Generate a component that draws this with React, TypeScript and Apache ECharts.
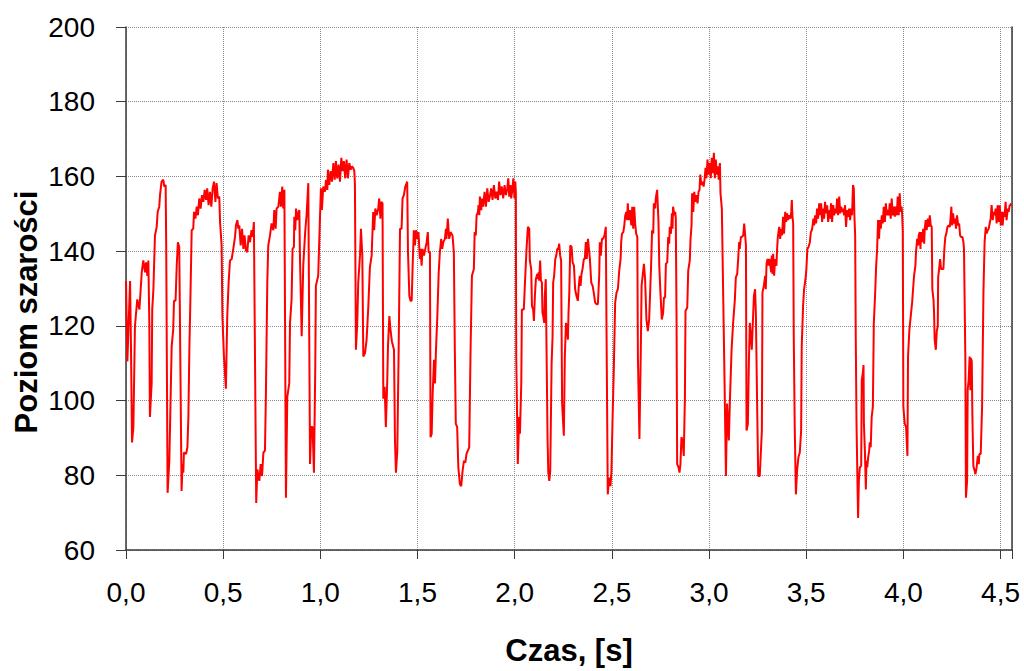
import { useEffect, useRef } from "react";
import * as echarts from "echarts";

// Grey-level trace, [time in s, grey level], split into consecutive stretches.
const stretch1: [number, number][] = [
  [0.0, 132], [0.007, 110.5], [0.021, 132], [0.026, 112.7], [0.031, 88.8], [0.038, 92.9], [0.046, 119.9],
  [0.058, 127.1], [0.069, 124.4], [0.081, 134.3], [0.089, 137.5], [0.098, 134.3], [0.103, 137], [0.11, 133.4],
  [0.115, 137.5], [0.12, 120.8], [0.123, 95.6], [0.132, 104.6], [0.135, 124.4], [0.141, 129.8], [0.149, 144.2],
  [0.158, 146.5], [0.163, 150.5], [0.171, 151.9], [0.175, 155], [0.183, 158.6], [0.192, 159.1], [0.197, 157.3],
  [0.204, 157.7], [0.207, 140.6], [0.214, 75.3], [0.223, 83.9], [0.235, 114.5], [0.243, 119], [0.247, 126.7],
  [0.255, 126.7], [0.261, 136.1], [0.267, 142.4], [0.274, 141.1], [0.286, 75.8], [0.291, 83], [0.295, 80.7],
  [0.298, 86.1], [0.309, 85.7], [0.316, 87.5], [0.321, 95.6], [0.326, 113.6], [0.331, 126.2], [0.338, 145.6],
  [0.346, 146], [0.35, 150.5], [0.357, 148.7], [0.364, 151.9], [0.37, 149.6], [0.377, 154.1], [0.384, 151.4],
  [0.391, 155], [0.398, 153.2], [0.405, 156.4], [0.412, 153.7], [0.418, 156.8], [0.425, 152.3], [0.432, 155.9],
  [0.439, 151.9], [0.446, 156.8], [0.453, 158.6], [0.46, 153.2], [0.466, 158.2], [0.473, 154.1], [0.48, 154.6],
  [0.484, 147.8], [0.492, 141.5], [0.496, 122.6], [0.504, 111.8], [0.514, 103.2], [0.521, 122.6], [0.528, 131.6],
  [0.535, 137.5], [0.544, 137.9], [0.552, 140.6], [0.561, 143.8], [0.566, 146.9], [0.573, 148.3], [0.578, 146],
  [0.583, 146.9], [0.59, 141.5], [0.597, 146], [0.604, 140.6], [0.61, 144.2], [0.617, 140.2], [0.624, 139.7],
  [0.631, 144.2],
];

const stretch2: [number, number][] = [
  [0.638, 142.4], [0.646, 145.6], [0.652, 143.8], [0.658, 147.8], [0.67, 72.6], [0.676, 81.6], [0.686, 78.5],
  [0.693, 83], [0.7, 79.8], [0.707, 86.1], [0.715, 86.6], [0.72, 101.9], [0.727, 131.6], [0.732, 141.5],
  [0.741, 144.2], [0.749, 147.4], [0.758, 145.6], [0.763, 151], [0.77, 146], [0.775, 151.4], [0.784, 151.9],
  [0.792, 155.9], [0.797, 151.9], [0.804, 157.3], [0.809, 151.4], [0.815, 156.4], [0.823, 74], [0.83, 101],
  [0.84, 104.6], [0.844, 120.8], [0.852, 127.1], [0.857, 140.6], [0.864, 141.1], [0.866, 149.2], [0.871, 145.6],
  [0.875, 151.4], [0.881, 148.3], [0.886, 150.1], [0.892, 151], [0.895, 138.8], [0.904, 117.2], [0.912, 136.1],
  [0.922, 145.1], [0.929, 149.6], [0.938, 158.2], [0.947, 83], [0.953, 92.9], [0.96, 92.9], [0.967, 80.7],
  [0.974, 109.1], [0.977, 130.7], [0.989, 133.4], [0.998, 148.7], [1.003, 156.8], [1.008, 151], [1.015, 157.3],
  [1.024, 155.9], [1.029, 159.1], [1.036, 156.4], [1.039, 161.8], [1.046, 157.7], [1.053, 161.4], [1.06, 158.6],
  [1.067, 163.6], [1.074, 159.1], [1.08, 164.1], [1.087, 159.5], [1.094, 163.2], [1.101, 158.6], [1.108, 165],
  [1.115, 161.4], [1.121, 164.1], [1.128, 159.5], [1.135, 164.5], [1.142, 159.5], [1.149, 163.6], [1.156, 161.8],
  [1.163, 162.7], [1.169, 162.3], [1.175, 161.4], [1.178, 157.7], [1.183, 113.6], [1.19, 120.8], [1.195, 131.6],
  [1.204, 138.8], [1.209, 146], [1.216, 138.8], [1.221, 111.8], [1.23, 112.7], [1.238, 116.3], [1.247, 125.3],
  [1.255, 135.7], [1.264, 138.8], [1.267, 143.3], [1.272, 150.5], [1.277, 145.6], [1.283, 151.4], [1.29, 149.6],
  [1.298, 151.4], [1.303, 154.1], [1.309, 148.7], [1.314, 153.2], [1.32, 152.8],
];

const stretch3: [number, number][] = [
  [1.324, 100.5], [1.331, 103.7], [1.337, 92.9], [1.344, 104.6], [1.348, 114.5], [1.355, 122.6], [1.361, 119],
  [1.368, 115.9], [1.379, 113.6], [1.384, 89.3], [1.389, 80.7], [1.396, 86.6], [1.403, 113.6], [1.41, 146],
  [1.418, 146], [1.423, 154.1], [1.43, 155], [1.437, 157.3], [1.444, 158.2], [1.447, 158.6], [1.451, 139.7],
  [1.458, 128], [1.464, 126.7], [1.47, 126.7], [1.475, 136.1], [1.481, 145.6], [1.487, 141.5], [1.492, 145.6],
  [1.499, 143.3], [1.505, 145.1], [1.512, 137.9], [1.516, 140.6], [1.521, 136.1], [1.526, 140.6], [1.533, 138.8],
  [1.54, 140.6], [1.547, 142.4], [1.553, 145.1], [1.557, 139.7], [1.564, 139.7], [1.567, 90.2], [1.573, 91.1],
  [1.578, 101.9], [1.585, 110.9], [1.59, 104.6], [1.595, 113.6], [1.602, 122.6], [1.609, 134.3], [1.615, 139.7],
  [1.622, 143.3], [1.627, 140.6], [1.633, 142.4], [1.641, 143.3], [1.646, 146], [1.649, 143.3], [1.656, 148.7],
  [1.663, 143.3], [1.67, 145.1], [1.68, 144.2], [1.687, 139.7], [1.692, 113.6], [1.697, 93.8], [1.704, 92.9],
  [1.71, 82.1], [1.718, 77.6], [1.725, 77.1], [1.732, 81.2], [1.739, 83.9], [1.746, 83.4], [1.752, 85.7],
  [1.759, 86.6], [1.766, 87.5], [1.773, 113.6], [1.78, 133.4], [1.79, 135.2], [1.794, 145.1], [1.8, 144.2],
  [1.804, 149.6], [1.811, 150.5], [1.814, 152.3], [1.818, 149.6], [1.821, 154.6], [1.828, 151], [1.833, 154.1],
  [1.838, 151.9], [1.845, 155.9], [1.852, 151.9], [1.859, 156.8], [1.866, 153.2], [1.872, 154.6], [1.879, 156.8],
  [1.886, 153.7], [1.893, 157.7], [1.9, 154.1], [1.907, 155.9], [1.914, 153.7], [1.92, 158.6], [1.927, 155],
  [1.934, 157.3], [1.941, 154.1], [1.948, 157.7], [1.955, 155], [1.962, 156.8], [1.967, 159.5], [1.972, 154.6],
  [1.979, 157.7],
];

const stretch4: [number, number][] = [
  [1.982, 154.1], [1.989, 156.8], [1.993, 159.5], [1.999, 154.1], [2.003, 158.6], [2.006, 155.9], [2.008, 111.8],
  [2.016, 83], [2.023, 95.6], [2.027, 91.1], [2.034, 104.6], [2.037, 124.4], [2.047, 124.4], [2.053, 131.6],
  [2.061, 140.6], [2.068, 146.5], [2.075, 146], [2.078, 137.5], [2.085, 135.2], [2.089, 125.3], [2.095, 124.4],
  [2.099, 121.3], [2.104, 128], [2.109, 132.5], [2.116, 133.9], [2.119, 132.5], [2.123, 134.3], [2.126, 132.1],
  [2.131, 137.5], [2.135, 132.1], [2.14, 131.6], [2.143, 123.5], [2.147, 122.6], [2.152, 120.8], [2.155, 128],
  [2.16, 132.5], [2.164, 113.6], [2.169, 90.2], [2.173, 80.7], [2.178, 78.5], [2.183, 81.2], [2.19, 110],
  [2.195, 117.2], [2.198, 131.6], [2.203, 133.4], [2.209, 137.9], [2.214, 138.8], [2.219, 140.6], [2.224, 140.6],
  [2.229, 142], [2.234, 138.8], [2.239, 137.5], [2.244, 99.2], [2.253, 90.6], [2.258, 111.8], [2.264, 120.8],
  [2.269, 119], [2.274, 116.3], [2.277, 123.5], [2.281, 128.9], [2.286, 141.5], [2.293, 141.1], [2.298, 137],
  [2.305, 136.1], [2.311, 129.8], [2.318, 128], [2.325, 126.7], [2.33, 130.7], [2.335, 133.4], [2.339, 130.7],
  [2.344, 133.9], [2.349, 135.2], [2.356, 137.9], [2.361, 137.9], [2.366, 142.4], [2.371, 137.9], [2.377, 143.3],
  [2.382, 140.6], [2.387, 137.9], [2.394, 131.6], [2.401, 130.7], [2.407, 128.9], [2.414, 126.2], [2.421, 125.8],
  [2.428, 125.8], [2.435, 133.4], [2.438, 142.4], [2.443, 138.8], [2.449, 143.3], [2.455, 143.3], [2.462, 144.2],
  [2.469, 146.5], [2.472, 122.6], [2.479, 74.9], [2.486, 79.4], [2.493, 77.1], [2.498, 81.2], [2.503, 93.8],
  [2.51, 108.2], [2.517, 126.2], [2.524, 128.9], [2.531, 129.8], [2.538, 134.8], [2.545, 137.9], [2.548, 142.4],
  [2.552, 144.7], [2.559, 145.1], [2.564, 146.9], [2.569, 149.6], [2.575, 150.5], [2.579, 148.3], [2.582, 152.8],
  [2.586, 148.3], [2.593, 151], [2.6, 146.9], [2.605, 151.9], [2.61, 146], [2.615, 151.9], [2.62, 147.4],
  [2.625, 144.7], [2.631, 143.8], [2.634, 111.8], [2.642, 89.7],
];

const stretch5: [number, number][] = [
  [2.649, 113.6], [2.653, 130.7], [2.665, 136.6], [2.671, 132.5], [2.678, 121.7], [2.685, 118.6], [2.692, 121.7],
  [2.702, 136.1], [2.707, 145.6], [2.713, 144.7], [2.716, 152.8], [2.723, 151.4], [2.726, 154.1], [2.733, 156.4],
  [2.74, 147.8], [2.744, 136.1], [2.75, 128.9], [2.757, 121.7], [2.764, 123.5], [2.768, 127.6], [2.774, 127.6],
  [2.778, 136.6], [2.785, 137], [2.79, 143.8], [2.795, 142], [2.798, 146.5], [2.804, 144.7], [2.809, 150.1],
  [2.812, 146], [2.815, 151.9], [2.822, 149.6], [2.826, 150.5], [2.829, 148.7], [2.833, 120.8], [2.836, 83],
  [2.843, 82.1], [2.848, 80.7], [2.853, 83], [2.858, 90.2], [2.864, 89.3], [2.87, 85.2], [2.876, 101],
  [2.879, 124], [2.888, 124.9], [2.893, 134.8], [2.901, 137.5], [2.905, 143.3], [2.91, 146.9], [2.913, 155.5],
  [2.919, 150.5], [2.924, 155.9], [2.929, 153.2], [2.936, 155], [2.941, 152.8], [2.946, 155.9], [2.951, 156.4],
  [2.955, 160.5], [2.961, 157.7], [2.967, 158.6], [2.972, 157.3], [2.977, 159.1], [2.982, 162.3], [2.987, 159.5],
  [2.992, 164.5], [2.997, 160.5], [3.004, 163.6], [3.009, 159.5], [3.014, 165], [3.02, 160.9], [3.025, 166.3],
  [3.03, 159.5], [3.035, 164.5], [3.04, 160.5], [3.045, 162.7], [3.05, 159.1], [3.056, 163.6], [3.059, 155.5],
  [3.066, 151.4], [3.073, 128], [3.08, 104.6], [3.087, 79.8], [3.093, 99.2], [3.102, 89.3], [3.107, 99.2],
  [3.116, 113.6], [3.124, 120.8], [3.133, 127.1], [3.138, 133], [3.145, 133.9], [3.15, 137.9], [3.155, 142.4],
  [3.158, 140.6], [3.164, 143.8], [3.169, 143.8], [3.176, 144.2], [3.181, 147.4], [3.186, 144.2], [3.19, 141.5],
  [3.193, 92], [3.2, 93.8], [3.205, 110], [3.21, 120.8], [3.215, 117.2], [3.22, 113.6], [3.224, 119],
  [3.231, 128], [3.237, 129.8], [3.241, 123.5], [3.248, 97.4], [3.253, 79.8], [3.261, 79.8], [3.272, 92],
  [3.275, 128.9], [3.282, 130.7], [3.289, 133.4], [3.292, 129.8], [3.296, 136.6], [3.301, 137.9], [3.306, 136.1],
  [3.311, 137.9],
];

const stretch6: [number, number][] = [
  [3.32, 134.3], [3.323, 138.8], [3.327, 133.9], [3.33, 139.3], [3.335, 133.4], [3.34, 137.9], [3.347, 136.1],
  [3.35, 140.2], [3.354, 143.8], [3.361, 146.5], [3.366, 143.3], [3.371, 146], [3.376, 144.2], [3.381, 149.2],
  [3.386, 144.7], [3.392, 150.5], [3.397, 147.8], [3.402, 150.1], [3.407, 148.3], [3.412, 149.6], [3.419, 148.7],
  [3.423, 150.5], [3.426, 153.7], [3.429, 149.6], [3.433, 147.4], [3.436, 117.2], [3.441, 92.9], [3.447, 74.9],
  [3.453, 81.2], [3.46, 84.8], [3.467, 86.1], [3.474, 92], [3.477, 114.5], [3.484, 125.3], [3.489, 129.8],
  [3.494, 131.6], [3.498, 133.4], [3.501, 135.2], [3.506, 140.6], [3.512, 141.1], [3.519, 142.4], [3.524, 145.1],
  [3.529, 145.6], [3.532, 146.5], [3.537, 148.7], [3.541, 146.9], [3.546, 149.6], [3.551, 147.4], [3.556, 151.4],
  [3.561, 148.7], [3.567, 152.8], [3.572, 149.6], [3.577, 152.8], [3.582, 147.8], [3.587, 151.4], [3.592, 148.7],
  [3.597, 153.2], [3.602, 150.1], [3.608, 152.3], [3.613, 147.8], [3.618, 151], [3.623, 148.7], [3.628, 152.8],
  [3.633, 147.8], [3.639, 152.3], [3.644, 149.6], [3.649, 151.4], [3.654, 150.1], [3.659, 154.1], [3.664, 149.6],
  [3.67, 154.6], [3.675, 150.1], [3.68, 151.9], [3.685, 150.5], [3.69, 151.4], [3.695, 149.6], [3.7, 152.3],
  [3.705, 146.5], [3.711, 151], [3.716, 149.2], [3.721, 151.4], [3.726, 148.3], [3.731, 151.4], [3.736, 149.6],
  [3.741, 157.7], [3.745, 156.8], [3.748, 149.6], [3.752, 144.2], [3.755, 117.2], [3.759, 93.8], [3.764, 77.6],
  [3.767, 68.6], [3.771, 78.5], [3.776, 82.1], [3.783, 82.5], [3.786, 105.5], [3.791, 107.3], [3.795, 109.5],
  [3.797, 93.8], [3.802, 86.6], [3.807, 76.2], [3.81, 83.9], [3.814, 82.1], [3.819, 84.8], [3.824, 86.6],
  [3.827, 88.8], [3.832, 87.5], [3.837, 95.6], [3.843, 98.3], [3.848, 120.8], [3.855, 128.9], [3.86, 136.1],
  [3.865, 140.6], [3.87, 148.3], [3.875, 143.3], [3.879, 148.3], [3.884, 146], [3.889, 149.6], [3.894, 147.4],
  [3.899, 151.9], [3.905, 147.8], [3.91, 152.8], [3.915, 149.6], [3.92, 151], [3.925, 149.6], [3.93, 152.8],
  [3.935, 148.7], [3.94, 154.1], [3.945, 149.6], [3.951, 151.9], [3.956, 149.2], [3.961, 151.9], [3.966, 149.6],
  [3.971, 154.6], [3.976, 149.6], [3.981, 155.5], [3.986, 150.5], [3.991, 151.9],
];

const stretch7: [number, number][] = [
  [3.994, 149.6], [3.997, 145.1], [4.0, 98.3], [4.007, 93.8], [4.014, 92.9], [4.021, 85.2], [4.024, 111.8],
  [4.031, 119], [4.038, 122.6], [4.045, 126.2], [4.05, 129.8], [4.055, 133.4], [4.062, 136.1], [4.065, 139.7],
  [4.071, 143.3], [4.076, 141.5], [4.079, 144.2], [4.084, 145.1], [4.088, 140.6], [4.091, 145.1], [4.096, 142.4],
  [4.102, 146], [4.107, 142], [4.11, 146], [4.115, 148.3], [4.12, 145.6], [4.126, 148.7], [4.131, 146.5],
  [4.136, 149.6], [4.141, 146.9], [4.146, 146.5], [4.149, 129.8], [4.155, 127.1], [4.158, 123.5], [4.161, 116.3],
  [4.167, 113.6], [4.172, 118.6], [4.177, 119.9], [4.179, 133], [4.184, 135.2], [4.189, 137.9], [4.194, 135.2],
  [4.199, 135.2], [4.206, 135.2], [4.211, 140.6], [4.216, 143.8], [4.221, 144.7], [4.227, 146.5], [4.233, 146.9],
  [4.239, 146.5], [4.244, 149.6], [4.247, 151.9], [4.251, 146.9], [4.256, 150.1], [4.261, 147.4], [4.266, 148.7],
  [4.271, 146], [4.276, 149.6], [4.282, 146.9], [4.287, 147.4], [4.292, 144.2], [4.297, 143.8], [4.304, 143.8],
  [4.309, 142.4], [4.312, 140.6], [4.319, 110.9], [4.322, 74], [4.328, 78.5], [4.331, 102.8], [4.336, 105.5],
  [4.341, 111.8], [4.345, 102.8], [4.347, 111.4], [4.352, 110.5], [4.355, 96.5], [4.36, 82.5], [4.367, 81.2],
  [4.371, 80.3], [4.377, 82.1], [4.383, 85.2], [4.388, 83], [4.391, 85.7], [4.398, 85.7], [4.405, 98.3],
  [4.412, 128.9], [4.418, 142.4], [4.424, 146.5], [4.429, 144.7], [4.434, 145.6], [4.439, 146], [4.444, 147.4],
  [4.449, 148.7], [4.454, 152.3], [4.46, 148.3], [4.465, 150.5], [4.47, 149.6], [4.475, 151.4], [4.48, 147.4],
  [4.485, 152.3], [4.491, 147.8], [4.496, 152.3], [4.501, 146.9], [4.506, 150.5], [4.511, 146.9], [4.516, 150.5],
  [4.521, 149.2], [4.526, 153.2], [4.531, 148.3], [4.537, 151.4], [4.542, 150.5], [4.547, 152.3], [4.552, 152.3],
  [4.555, 152.8],
];

const trace: [number, number][] = [
  ...stretch1, ...stretch2, ...stretch3, ...stretch4, ...stretch5, ...stretch6, ...stretch7,
];

const TIME_MAX = 4.559;
const GREY_MIN = 60;
const GREY_MAX = 200;
const GREY_STEP = 20;
const TIME_STEP = 0.5;

const FONT = "'Liberation Sans', Arial, Helvetica, sans-serif";
const AXIS_COLOR = "#3a3a3a";
const GRID_COLOR = "#8a8a8a";

// Polish decimal comma; only whole multiples of the step get a label
const timeLabel = (v: number): string => {
  const k = v / TIME_STEP;
  if (Math.abs(k - Math.round(k)) > 1e-6) return "";
  return v.toFixed(1).replace(".", ",");
};

export default function App() {
  const ref = useRef<HTMLDivElement | null>(null);

  useEffect(() => {
    if (!ref.current) return;
    const chart = echarts.init(ref.current, undefined, { renderer: "svg" });
    chart.setOption({
      animation: false,
      backgroundColor: "#ffffff",
      grid: { left: 126, right: 12, top: 27, bottom: 121, containLabel: false },
      xAxis: {
        type: "value",
        min: 0,
        max: TIME_MAX,
        interval: TIME_STEP,
        axisLine: { show: true, onZero: false, lineStyle: { color: AXIS_COLOR, width: 1.5 } },
        axisTick: { show: true, length: 9, lineStyle: { color: AXIS_COLOR, width: 1 } },
        axisLabel: {
          margin: 28,
          fontSize: 28,
          fontFamily: FONT,
          color: "#000",
          formatter: timeLabel,
          showMaxLabel: true,
        },
        splitLine: { show: true, lineStyle: { color: GRID_COLOR, width: 1, type: "dotted" } },
        name: "Czas, [s]",
        nameLocation: "middle",
        nameGap: 85,
        nameTextStyle: { fontSize: 31, fontWeight: "bold", fontFamily: FONT, color: "#000" },
      },
      yAxis: [
        {
          type: "value",
          min: GREY_MIN,
          max: GREY_MAX,
          interval: GREY_STEP,
          axisLine: { show: true, onZero: false, lineStyle: { color: AXIS_COLOR, width: 1.5 } },
          axisTick: { show: true, length: 10, lineStyle: { color: AXIS_COLOR, width: 1 } },
          axisLabel: { margin: 31, fontSize: 28, fontFamily: FONT, color: "#000" },
          splitLine: { show: true, lineStyle: { color: GRID_COLOR, width: 1, type: "dotted" } },
        },
        {
          type: "value",
          position: "right",
          min: GREY_MIN,
          max: GREY_MAX,
          interval: GREY_STEP,
          axisLine: { show: true, onZero: false, lineStyle: { color: AXIS_COLOR, width: 1.5 } },
          axisTick: { show: false },
          axisLabel: { show: false },
          splitLine: { show: false },
        },
      ],
      graphic: [
        {
          type: "text",
          x: 26,
          y: 312,
          rotation: Math.PI / 2,
          style: {
            text: "Poziom szarości",
            fontSize: 31,
            fontWeight: "bold",
            fontFamily: FONT,
            fill: "#000",
            textAlign: "center",
            textVerticalAlign: "middle",
          },
        },
      ],
      series: [
        {
          type: "line",
          data: trace,
          yAxisIndex: 0,
          showSymbol: false,
          symbol: "none",
          lineStyle: { color: "#ff0000", width: 2 },
          itemStyle: { color: "#ff0000" },
        },
      ],
    });
    return () => {
      chart.dispose();
    };
  }, []);

  return (
    <div
      ref={ref}
      style={{ position: "fixed", left: 0, top: 0, width: 1024, height: 671, background: "#fff" }}
    />
  );
}
